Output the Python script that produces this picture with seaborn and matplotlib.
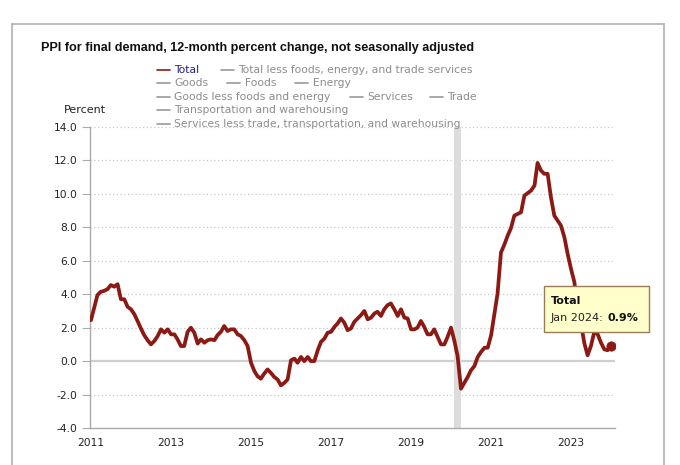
import numpy as np
import pandas as pd
import matplotlib
matplotlib.use("Agg")
import matplotlib.pyplot as plt
import matplotlib.dates as mdates
from matplotlib.lines import Line2D
from matplotlib.patches import Rectangle
import seaborn as sns

# ---------------- data ----------------
title = "PPI for final demand, 12-month percent change, not seasonally adjusted"
y_label = "Percent"
legend_rows = [
    ["Total", "Total less foods, energy, and trade services"],
    ["Goods", "Foods", "Energy"],
    ["Goods less foods and energy", "Services", "Trade"],
    ["Transportation and warehousing"],
    ["Services less trade, transportation, and warehousing"],
]
active_series = "Total"
start_month = "2011-01-01"
end_month = "2024-01-01"
total = [
    # 2011
    2.45, 3.25, 3.95, 4.15, 4.2, 4.3, 4.55, 4.45, 4.6, 3.7, 3.7, 3.25,
    # 2012
    3.1, 2.8, 2.4, 1.95, 1.55, 1.25, 1.0, 1.2, 1.5, 1.9, 1.7, 1.9,
    # 2013
    1.6, 1.6, 1.3, 0.9, 0.9, 1.75, 2.0, 1.7, 1.05, 1.3, 1.1, 1.25,
    # 2014
    1.3, 1.25, 1.55, 1.75, 2.1, 1.8, 1.9, 1.9, 1.6, 1.5, 1.25, 0.9,
    # 2015
    -0.1, -0.6, -0.9, -1.05, -0.75, -0.5, -0.7, -0.95, -1.1, -1.45, -1.3, -1.1,
    # 2016
    0.05, 0.15, -0.1, 0.25, 0.0, 0.25, 0.0, 0.0, 0.65, 1.15, 1.35, 1.7,
    # 2017
    1.75, 2.05, 2.25, 2.55, 2.3, 1.85, 1.95, 2.35, 2.55, 2.75, 3.0, 2.5,
    # 2018
    2.6, 2.85, 2.95, 2.7, 3.1, 3.35, 3.45, 3.1, 2.7, 3.1, 2.6, 2.55,
    # 2019
    1.9, 1.9, 2.0, 2.4, 2.05, 1.6, 1.6, 1.9, 1.45, 1.0, 1.0, 1.45,
    # 2020
    2.0, 1.2, 0.3, -1.65, -1.3, -0.95, -0.55, -0.3, 0.25, 0.55, 0.8, 0.8,
    # 2021
    1.55, 2.85, 4.05, 6.5, 6.95, 7.5, 7.95, 8.7, 8.8, 8.9, 9.9, 10.05,
    # 2022
    10.2, 10.5, 11.85, 11.4, 11.2, 11.2, 9.8, 8.7, 8.4, 8.1, 7.4, 6.4,
    # 2023
    5.5, 4.7, 2.8, 2.3, 1.1, 0.35, 0.9, 1.75, 1.6, 1.1, 0.7, 0.65,
    # 2024
    0.9,
]
y_ticks = [-4.0, -2.0, 0.0, 2.0, 4.0, 6.0, 8.0, 10.0, 12.0, 14.0]
x_tick_years = [2011, 2013, 2015, 2017, 2019, 2021, 2023]
recession_start = "2020-02-01"
recession_end = "2020-04-01"
tooltip_title = "Total"
tooltip_date = "Jan 2024"
tooltip_value = "0.9%"

months = pd.date_range(start_month, end_month, freq="MS")
df = pd.DataFrame({"date": months, "value": total})

# ---------------- styling ----------------
sns.set_theme(style="white")
plt.rcParams["font.family"] = ["DejaVu Sans"]

W, H = 680, 465
fig = plt.figure(figsize=(W / 100, H / 100), dpi=100)
fig.patch.set_facecolor("white")

def fx(px):
    return px / W

def fy(py):
    return 1 - py / H

ax_l, ax_r, ax_t, ax_b = 90, 615, 127, 428
ax = fig.add_axes([fx(ax_l), fy(ax_b), fx(ax_r - ax_l), (ax_b - ax_t) / H])
ax.set_facecolor("white")

line_color = "#8B1A14"

# grid
for v in y_ticks:
    if v == 0:
        ax.axhline(v, color="#cfcfcf", lw=1.6, zorder=1)
    elif v != y_ticks[0]:
        ax.axhline(v, color="#c8c8c8", lw=0.9, ls=(0, (1, 2)), zorder=1)

# recession shading
ax.axvspan(pd.Timestamp(recession_start), pd.Timestamp(recession_end),
           color="#dcdcdc", lw=0, zorder=1.5)

sns.lineplot(data=df, x="date", y="value", ax=ax, color=line_color,
             linewidth=2.7, zorder=3, legend=False)
sns.scatterplot(data=df.iloc[[-1]], x="date", y="value", ax=ax,
                color=line_color, s=45, edgecolor=line_color, zorder=4,
                legend=False)

ax.set_ylim(y_ticks[0], y_ticks[-1])
ax.set_yticks(y_ticks)
ax.set_yticklabels([f"{v:.1f}" for v in y_ticks], fontsize=7.7, color="#222222")
ax.set_xlim(pd.Timestamp(start_month) - pd.Timedelta(days=9),
            pd.Timestamp("2024-02-06"))
ax.set_xticks([pd.Timestamp(f"{y}-01-01") for y in x_tick_years])
ax.set_xticklabels([str(y) for y in x_tick_years], fontsize=7.7, color="#222222")
ax.tick_params(axis="x", length=0, pad=7)
ax.tick_params(axis="y", length=6, width=0.8, color="#aaaaaa", pad=3, left=True)
ax.set_xlabel("")
ax.set_ylabel("")
for s in ["top", "right"]:
    ax.spines[s].set_visible(False)
ax.spines["left"].set_color("#aaaaaa")
ax.spines["bottom"].set_color("#aaaaaa")
ax.spines["left"].set_linewidth(1.0)
ax.spines["bottom"].set_linewidth(1.0)
ax.grid(False)

# frame around the chart panel
frame_color = "#b0b0b0"
fig.add_artist(Line2D([fx(12), fx(664)], [fy(24), fy(24)], color=frame_color, lw=1.2))
fig.add_artist(Line2D([fx(12), fx(12)], [fy(24), fy(465)], color=frame_color, lw=1.2))
fig.add_artist(Line2D([fx(664), fx(664)], [fy(24), fy(465)], color=frame_color, lw=1.2))

# title
fig.text(fx(41), fy(48), title, fontsize=9.05, fontweight="bold",
         family="Liberation Sans", color="#111111", va="center", ha="left")

# y label
fig.text(fx(64), fy(110), y_label, fontsize=8, color="#222222", va="center", ha="left")

# legend (flow layout)
row_y = [70, 83.5, 97, 110, 123.5]
row_x = [[157, 221], [157, 227, 295], [157, 350, 430], [157], [157]]
for names, xs, yy in zip(legend_rows, row_x, row_y):
    for name, x0 in zip(names, xs):
        is_active = name == active_series
        lc = line_color if is_active else "#999999"
        tc = "#1f1f7a" if is_active else "#8c8c8c"
        fig.add_artist(Line2D([fx(x0), fx(x0 + 13)], [fy(yy), fy(yy)], color=lc, lw=1.2))
        fig.text(fx(x0 + 17.5), fy(yy), name, fontsize=7.75, color=tc,
                 va="center", ha="left")

# tooltip
fig.add_artist(Rectangle((fx(544), fy(332)), fx(649 - 544), (332 - 286) / H,
                         facecolor="#FFFFCC", edgecolor="#9a7b55", lw=1.0, zorder=10))
fig.text(fx(551), fy(301), tooltip_title, fontsize=8, fontweight="bold",
         color="#111111", va="center", ha="left", zorder=11)
t1 = fig.text(fx(551), fy(318), f"{tooltip_date}: ", fontsize=8,
              color="#222222", va="center", ha="left", zorder=11)
fig.canvas.draw()
bb = t1.get_window_extent()
fig.text(bb.x1 / W, fy(318), tooltip_value, fontsize=8, fontweight="bold",
         color="#111111", va="center", ha="left", zorder=11)

fig.savefig("out.png", dpi=100)
